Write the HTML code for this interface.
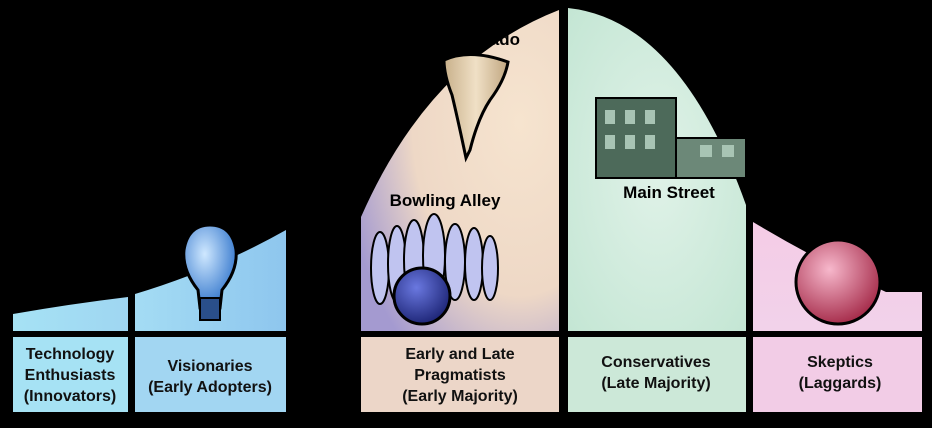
<!DOCTYPE html>
<html><head><meta charset="utf-8"><style>
html,body{margin:0;padding:0;background:#000;}
svg{display:block}
text{font-family:"Liberation Sans",sans-serif;font-weight:bold;}
</style></head><body>
<svg width="932" height="428" viewBox="0 0 932 428" xmlns="http://www.w3.org/2000/svg">
<defs>
<linearGradient id="g1" x1="0" y1="0" x2="1" y2="0"><stop offset="0" stop-color="#a6e2f4"/><stop offset="1" stop-color="#9fd6f2"/></linearGradient>
<linearGradient id="g2" x1="0" y1="0" x2="1" y2="0"><stop offset="0" stop-color="#a4dcf4"/><stop offset="1" stop-color="#8ec6ee"/></linearGradient>
<radialGradient id="g3" cx="0.8" cy="0.35" r="0.9"><stop offset="0" stop-color="#f6e4cf"/><stop offset="0.6" stop-color="#eed8c6"/><stop offset="1" stop-color="#a49ad0"/></radialGradient>
<radialGradient id="g4" cx="0.5" cy="0.5" r="0.7"><stop offset="0" stop-color="#e0f2e8"/><stop offset="1" stop-color="#c4e6d4"/></radialGradient>
<linearGradient id="g5" x1="0" y1="0" x2="0" y2="1"><stop offset="0" stop-color="#f4cce6"/><stop offset="1" stop-color="#f2d2ea"/></linearGradient>
<radialGradient id="bulb" cx="0.4" cy="0.35" r="0.6"><stop offset="0" stop-color="#cfe8ff"/><stop offset="1" stop-color="#3f7fd0"/></radialGradient>
<radialGradient id="globe" cx="0.4" cy="0.35" r="0.65"><stop offset="0" stop-color="#f7b8cc"/><stop offset="1" stop-color="#a8304e"/></radialGradient>
<radialGradient id="ball" cx="0.4" cy="0.35" r="0.65"><stop offset="0" stop-color="#6a78e0"/><stop offset="1" stop-color="#20287a"/></radialGradient>
<linearGradient id="torn" x1="0" y1="0" x2="1" y2="0"><stop offset="0" stop-color="#c8b08a"/><stop offset="0.5" stop-color="#f0e0c6"/><stop offset="1" stop-color="#c0a680"/></linearGradient>
</defs>
<path d="M13,314 Q70,304 128,297 L128,331 L13,331 Z" fill="url(#g1)"/>
<rect x="13" y="337" width="115" height="75" fill="#a6e2f4"/>
<path d="M135,294 Q215,270 286,230 L286,331 L135,331 Z" fill="url(#g2)"/>
<rect x="135" y="337" width="151" height="75" fill="#a2d6f2"/>
<path d="M361,217 Q430,60 559,10 L559,331 L361,331 Z" fill="url(#g3)"/>
<rect x="361" y="337" width="198" height="75" fill="#ecd6c8"/>
<path d="M568,8 Q680,20 746,205 L746,331 L568,331 Z" fill="url(#g4)"/>
<rect x="568" y="337" width="178" height="75" fill="#cce8d8"/>
<path d="M753,222 Q820,262 886,292 L922,292 L922,331 L753,331 Z" fill="url(#g5)"/>
<rect x="753" y="337" width="169" height="75" fill="#f2cce6"/>

<path d="M200,308 L198,290 Q182,270 184,250 Q188,225 210,225 Q232,225 236,250 Q238,270 222,290 L220,308 Z" fill="url(#bulb)" stroke="#000" stroke-width="3"/>
<rect x="200" y="298" width="20" height="22" fill="#2a4f8a" stroke="#000" stroke-width="2"/>
<path d="M444,60 Q470,48 508,62 Q505,80 490,100 Q478,118 470,150 L466,158 Q458,120 452,95 Q444,75 444,60 Z" fill="url(#torn)" stroke="#000" stroke-width="3"/>
<text x="520" y="45" font-size="17" fill="#000" text-anchor="end">ado</text>
<text x="445" y="206" font-size="17" fill="#000" text-anchor="middle">Bowling Alley</text>
<g stroke="#000" stroke-width="2" fill="#c0c4f0">
<ellipse cx="380" cy="268" rx="9" ry="36"/>
<ellipse cx="397" cy="264" rx="9" ry="38"/>
<ellipse cx="414" cy="260" rx="10" ry="40"/>
<ellipse cx="434" cy="256" rx="11" ry="42"/>
<ellipse cx="455" cy="262" rx="10" ry="38"/>
<ellipse cx="474" cy="264" rx="9" ry="36"/>
<ellipse cx="490" cy="268" rx="8" ry="32"/>
</g>
<circle cx="422" cy="296" r="28" fill="url(#ball)" stroke="#000" stroke-width="3"/>
<rect x="596" y="98" width="80" height="80" fill="#4d6a5a" stroke="#000" stroke-width="2"/>
<rect x="676" y="138" width="70" height="40" fill="#6c8878" stroke="#000" stroke-width="2"/>
<g fill="#a8c4b4"><rect x="605" y="110" width="10" height="14"/><rect x="625" y="110" width="10" height="14"/><rect x="645" y="110" width="10" height="14"/><rect x="605" y="135" width="10" height="14"/><rect x="625" y="135" width="10" height="14"/><rect x="645" y="135" width="10" height="14"/><rect x="700" y="145" width="12" height="12"/><rect x="722" y="145" width="12" height="12"/></g>
<text x="669" y="198" font-size="17" fill="#000" text-anchor="middle">Main Street</text>
<circle cx="838" cy="282" r="42" fill="url(#globe)" stroke="#000" stroke-width="3"/>

<g font-size="16" fill="#111" text-anchor="middle">
<text x="70" y="359">Technology</text><text x="70" y="380">Enthusiasts</text><text x="70" y="401">(Innovators)</text>
<text x="210" y="371">Visionaries</text><text x="210" y="392">(Early Adopters)</text>
<text x="460" y="359">Early and Late</text><text x="460" y="380">Pragmatists</text><text x="460" y="401">(Early Majority)</text>
<text x="656" y="367">Conservatives</text><text x="656" y="388">(Late Majority)</text>
<text x="840" y="367">Skeptics</text><text x="840" y="388">(Laggards)</text>
</g>
</svg>
</body></html>
